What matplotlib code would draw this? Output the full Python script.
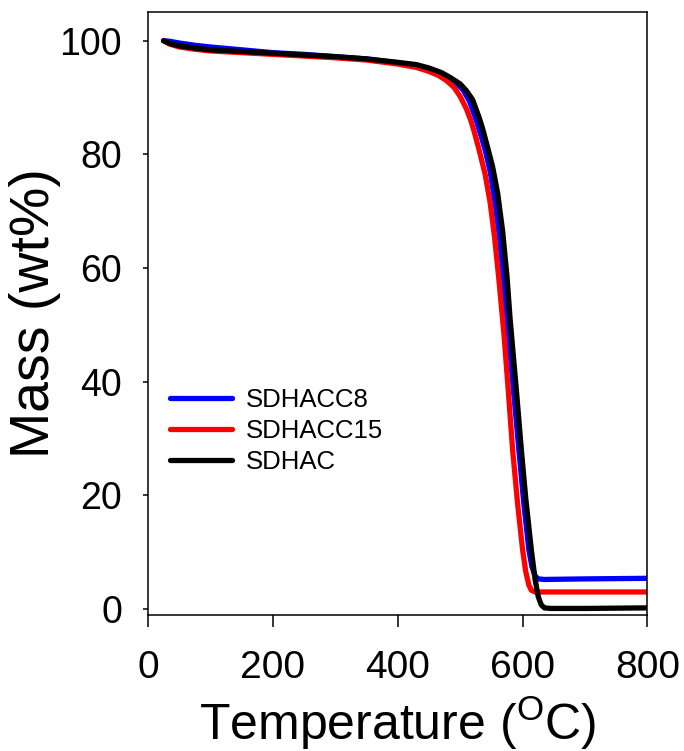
import matplotlib
matplotlib.use("Agg")
import matplotlib.pyplot as plt

plt.rcParams['font.family'] = ['Liberation Sans', 'DejaVu Sans']
plt.rcParams['mathtext.fontset'] = 'custom'
plt.rcParams['mathtext.rm'] = 'Liberation Sans'
plt.rcParams['mathtext.it'] = 'Liberation Sans:italic'

# SDHACC8 (blue)
t_c8 = [25, 35, 50, 75, 100, 150, 200, 250, 300, 350, 400, 430, 450, 470, 490, 505, 515, 525,
        532, 540, 548, 556, 563, 570, 576, 585, 594, 602, 610, 615, 620, 625, 635, 700, 800]
m_c8 = [100, 99.9, 99.6, 99.2, 98.9, 98.4, 97.9, 97.6, 97.2, 96.8, 96.1, 95.6, 95.0, 94.2, 93.0,
        91.3, 89.3, 86.3, 83.8, 80.8, 77.0, 71.5, 65.5, 57.5, 50.0, 39.0, 28.0, 18.5, 10.4, 7.4,
        5.8, 5.3, 5.2, 5.3, 5.4]

# SDHACC15 (red)
t_c15 = [25, 35, 50, 75, 100, 150, 200, 250, 300, 350, 400, 430, 450, 465, 478, 490, 500, 510, 517,
         523, 531, 540, 548, 555, 562, 570, 577, 584, 592, 600, 605, 610, 614, 620, 650, 800]
m_c15 = [100, 99.4, 98.9, 98.5, 98.2, 97.9, 97.6, 97.3, 97.0, 96.6, 95.9, 95.3, 94.6, 93.9, 93.0,
         91.8, 90.2, 88.0, 86.0, 83.8, 80.5, 76.5, 71.5, 65.5, 58.0, 48.5, 38.5, 28.0, 18.5, 10.4, 6.6,
         4.2, 3.3, 3.0, 3.0, 3.0]

# SDHAC (black)
t_c0 = [25, 35, 50, 75, 100, 150, 200, 250, 300, 350, 400, 430, 450, 470, 483, 500, 510, 520,
        530, 536, 545, 552, 560, 568, 575, 580, 590, 598, 605, 614, 620, 625, 630, 635, 645, 700, 800]
m_c0 = [100, 99.5, 99.1, 98.7, 98.4, 98.1, 97.8, 97.5, 97.2, 96.8, 96.2, 95.8, 95.2, 94.4, 93.6,
        92.4, 91.2, 89.6, 86.6, 84.5, 80.8, 77.8, 73.2, 66.5, 58.5, 51.0, 38.5, 28.0, 19.5, 10.4,
        5.2, 2.2, 0.7, 0.2, 0.1, 0.1, 0.2]

series_labels = ['SDHACC8', 'SDHACC15', 'SDHAC']
series_colors = ['#0000ff', '#ff0000', '#000000']

x_ticks = [0, 200, 400, 600, 800]
y_ticks = [0, 20, 40, 60, 80, 100]

fig = plt.figure(figsize=(6.84, 7.51), dpi=100)
ax = fig.add_axes([0.2164, 0.1815, 0.7302, 0.8021])

for t, m, lab, col in zip([t_c8, t_c15, t_c0], [m_c8, m_c15, m_c0], series_labels, series_colors):
    ax.plot(t, m, color=col, lw=3.8, label=lab, solid_capstyle='round', solid_joinstyle='round')

ax.set_xlim(0, 800)
ax.set_ylim(-1, 105)
ax.set_xticks(x_ticks)
ax.set_yticks(y_ticks)
ax.tick_params(axis='x', direction='out', length=8.5, width=1.1, labelsize=28, pad=17)
ax.tick_params(axis='y', direction='out', length=3.8, width=1.1, labelsize=27, pad=15)
for s in ax.spines.values():
    s.set_linewidth(1.1)

ax.set_xlabel('Temperature ($^{\\mathrm{O}}$C)', fontsize=36)
ax.xaxis.label.set_verticalalignment('baseline')
ax.xaxis.set_label_coords(0.5, (614.7 - 740) / 602.4)

ax.set_ylabel('Mass (wt%)', fontsize=40)
ax.yaxis.label.set_verticalalignment('center')
ax.yaxis.set_label_coords((35 - 148) / 499.5, 0.5)

leg = ax.legend(loc='center left', bbox_to_anchor=(0.044, 0.305), frameon=False,
                fontsize=18.5, handlelength=2.4, handletextpad=0.55, labelspacing=0.28,
                borderpad=0, borderaxespad=0)
for h in leg.get_lines():
    h.set_linewidth(3.8)

fig.savefig('out.png', dpi=100)
